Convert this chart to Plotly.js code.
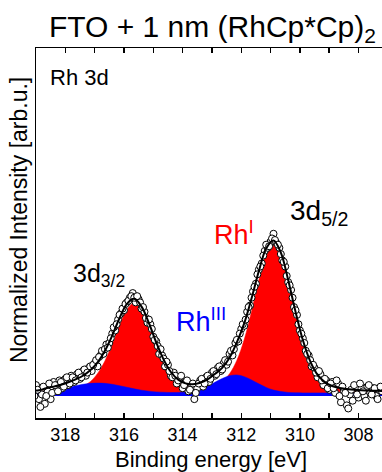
<!DOCTYPE html>
<html>
<head>
<meta charset="utf-8">
<script src="https://cdn.plot.ly/plotly-3.0.1.min.js"></script>
<style>html,body{margin:0;padding:0;background:#fff;}#chart{width:382px;height:472px;}</style>
</head>
<body>
<div id="chart"></div>
<script>
// Binding energies of the fit curves [eV]
const xFit = [319.15, 318.90, 318.65, 318.40, 318.15, 317.90, 317.65, 317.40, 317.15, 316.90,
  316.65, 316.40, 316.15, 315.90, 315.65, 315.40, 315.15, 314.90, 314.65, 314.40,
  314.15, 313.90, 313.65, 313.40, 313.15, 312.90, 312.65, 312.40, 312.15, 311.90,
  311.65, 311.40, 311.15, 310.90, 310.65, 310.40, 310.15, 309.90, 309.65, 309.40,
  309.15, 308.90, 308.65, 308.40, 308.15, 307.90, 307.65, 307.40, 307.15];
// Rh(I) component (red)
const rhI = [0.029, 0.031, 0.032, 0.034, 0.037, 0.041, 0.048, 0.063, 0.092, 0.145,
  0.225, 0.333, 0.454, 0.555, 0.597, 0.556, 0.457, 0.338, 0.231, 0.152,
  0.102, 0.076, 0.064, 0.061, 0.063, 0.073, 0.096, 0.143, 0.229, 0.362,
  0.542, 0.743, 0.911, 0.979, 0.910, 0.741, 0.540, 0.359, 0.224, 0.137,
  0.089, 0.064, 0.051, 0.045, 0.040, 0.037, 0.035, 0.033, 0.032];
// Rh(III) component (blue)
const rhIII = [0.024, 0.026, 0.031, 0.037, 0.046, 0.056, 0.066, 0.075, 0.081, 0.083,
  0.081, 0.075, 0.066, 0.056, 0.046, 0.037, 0.031, 0.026, 0.024, 0.022,
  0.023, 0.025, 0.032, 0.044, 0.063, 0.088, 0.112, 0.130, 0.135, 0.124,
  0.103, 0.078, 0.055, 0.038, 0.029, 0.023, 0.021, 0.020, 0.020, 0.020,
  0.020, 0.020, 0.020, 0.020, 0.020, 0.020, 0.020, 0.020, 0.020];
// Fit envelope (black line)
const envelope = [0.033, 0.037, 0.050, 0.060, 0.072, 0.088, 0.107, 0.130, 0.165, 0.215,
  0.290, 0.388, 0.500, 0.591, 0.623, 0.573, 0.468, 0.344, 0.235, 0.154,
  0.105, 0.081, 0.076, 0.085, 0.106, 0.141, 0.180, 0.245, 0.344, 0.466,
  0.625, 0.801, 0.946, 0.997, 0.919, 0.744, 0.541, 0.359, 0.224, 0.137,
  0.089, 0.064, 0.051, 0.045, 0.040, 0.037, 0.035, 0.033, 0.032];
// Measured data points (sweep A)
const xDataA = [319.0, 318.9, 318.8, 318.7, 318.6, 318.5, 318.4, 318.3, 318.2, 318.1,
  318.0, 317.9, 317.8, 317.7, 317.6, 317.5, 317.4, 317.3, 317.2, 317.1,
  317.0, 316.9, 316.8, 316.7, 316.6, 316.5, 316.4, 316.3, 316.2, 316.1,
  316.0, 315.9, 315.8, 315.7, 315.6, 315.5, 315.4, 315.3, 315.2, 315.1,
  315.0, 314.9, 314.8, 314.7, 314.6, 314.5, 314.4, 314.3, 314.2, 314.1,
  314.0, 313.9, 313.8, 313.7, 313.6, 313.5, 313.4, 313.3, 313.2, 313.1,
  313.0, 312.9, 312.8, 312.7, 312.6, 312.5, 312.4, 312.3, 312.2, 312.1,
  312.0, 311.9, 311.8, 311.7, 311.6, 311.5, 311.4, 311.3, 311.2, 311.1,
  311.0, 310.9, 310.8, 310.7, 310.6, 310.5, 310.4, 310.3, 310.2, 310.1,
  310.0, 309.9, 309.8, 309.7, 309.6, 309.5, 309.4, 309.3, 309.2, 309.1,
  309.0, 308.9, 308.8, 308.7, 308.6, 308.5, 308.4, 308.3, 308.2, 308.1,
  308.0, 307.9, 307.8, 307.7, 307.6, 307.5, 307.4, 307.3, 307.2];
const yDataA = [0.07, -0.02, 0.01, -0.05, 0.03, -0.02, 0.09, 0.04, 0.10, 0.05,
  0.11, 0.07, 0.13, 0.09, 0.14, 0.11, 0.16, 0.13, 0.18, 0.16,
  0.21, 0.19, 0.26, 0.27, 0.33, 0.34, 0.40, 0.42, 0.49, 0.53,
  0.55, 0.60, 0.63, 0.66, 0.60, 0.62, 0.56, 0.54, 0.47, 0.46,
  0.38, 0.35, 0.27, 0.26, 0.19, 0.20, 0.13, 0.15, 0.08, 0.11,
  0.05, 0.09, 0.03, 0.06, -0.02, 0.05, 0.10, 0.06, 0.12, 0.09,
  0.15, 0.13, 0.18, 0.16, 0.21, 0.20, 0.27, 0.26, 0.34, 0.35,
  0.43, 0.45, 0.54, 0.58, 0.67, 0.72, 0.81, 0.85, 0.93, 0.95,
  0.99, 1.04, 0.98, 0.95, 0.87, 0.83, 0.73, 0.68, 0.57, 0.52,
  0.42, 0.37, 0.29, 0.26, 0.19, 0.18, 0.12, 0.14, 0.07, 0.10,
  0.04, 0.09, 0.02, 0.08, -0.04, 0.03, -0.06, 0.01, -0.03, 0.06,
  -0.01, 0.05, 0.00, 0.06, 0.02, 0.05, 0.00, 0.04, 0.03];
// Measured data points (sweep B)
const xDataB = [319.05, 318.95, 318.85, 318.75, 318.65, 318.55, 318.45, 318.35, 318.25, 318.15,
  318.05, 317.95, 317.85, 317.75, 317.65, 317.55, 317.45, 317.35, 317.25, 317.15,
  317.05, 316.95, 316.85, 316.75, 316.65, 316.55, 316.45, 316.35, 316.25, 316.15,
  316.05, 315.95, 315.85, 315.75, 315.65, 315.55, 315.45, 315.35, 315.25, 315.15,
  315.05, 314.95, 314.85, 314.75, 314.65, 314.55, 314.45, 314.35, 314.25, 314.15,
  314.05, 313.95, 313.85, 313.75, 313.65, 313.55, 313.45, 313.35, 313.25, 313.15,
  313.05, 312.95, 312.85, 312.75, 312.65, 312.55, 312.45, 312.35, 312.25, 312.15,
  312.05, 311.95, 311.85, 311.75, 311.65, 311.55, 311.45, 311.35, 311.25, 311.15,
  311.05, 310.95, 310.85, 310.75, 310.65, 310.55, 310.45, 310.35, 310.25, 310.15,
  310.05, 309.95, 309.85, 309.75, 309.65, 309.55, 309.45, 309.35, 309.25, 309.15,
  309.05, 308.95, 308.85, 308.75, 308.65, 308.55, 308.45, 308.35, 308.25, 308.15,
  308.05, 307.95, 307.85, 307.75, 307.65, 307.55, 307.45, 307.35, 307.25];
const yDataB = [0.00, 0.04, -0.07, 0.06, 0.00, 0.08, 0.02, 0.07, 0.03, 0.09,
  0.06, 0.12, 0.08, 0.12, 0.10, 0.15, 0.12, 0.17, 0.15, 0.19,
  0.20, 0.23, 0.25, 0.29, 0.30, 0.31, 0.37, 0.44, 0.46, 0.52,
  0.56, 0.59, 0.61, 0.64, 0.63, 0.64, 0.60, 0.57, 0.50, 0.49,
  0.43, 0.36, 0.32, 0.30, 0.24, 0.22, 0.16, 0.12, 0.13, 0.10,
  0.13, 0.07, 0.10, 0.04, 0.08, 0.02, 0.08, 0.11, 0.08, 0.13,
  0.11, 0.16, 0.14, 0.19, 0.17, 0.23, 0.22, 0.29, 0.30, 0.36,
  0.40, 0.46, 0.49, 0.57, 0.63, 0.70, 0.78, 0.83, 0.90, 0.97,
  0.96, 1.01, 1.00, 0.97, 0.91, 0.86, 0.77, 0.71, 0.63, 0.55,
  0.46, 0.40, 0.34, 0.27, 0.23, 0.20, 0.15, 0.16, 0.10, 0.11,
  0.05, 0.08, 0.05, 0.10, 0.00, 0.06, 0.02, -0.08, 0.04, 0.07,
  0.01, 0.08, 0.03, -0.03, 0.07, 0.01, 0.05, -0.02, 0.06];

const FONT = '"Liberation Sans", Arial, sans-serif';
const dataMarker = {symbol: 'circle', size: 7, color: '#ffffff', line: {color: '#000000', width: 1}};

const traces = [
  {x: xFit, y: rhI, mode: 'lines', line: {color: '#ff0000', width: 0.5, shape: 'spline'},
   fill: 'tozeroy', fillcolor: '#ff0000', hoverinfo: 'skip', showlegend: false},
  {x: xFit, y: rhIII, mode: 'lines', line: {color: '#0000ff', width: 0.5, shape: 'spline'},
   fill: 'tozeroy', fillcolor: '#0000ff', hoverinfo: 'skip', showlegend: false},
  {x: xDataA, y: yDataA, mode: 'markers', marker: dataMarker, showlegend: false},
  {x: xDataB, y: yDataB, mode: 'markers', marker: dataMarker, showlegend: false},
  {x: xFit, y: envelope, mode: 'lines', line: {color: '#000000', width: 2, shape: 'spline'},
   showlegend: false}
];

const layout = {
  width: 382, height: 472,
  margin: {l: 36, r: 0, t: 48, b: 54, pad: 0},
  paper_bgcolor: '#ffffff', plot_bgcolor: '#ffffff',
  font: {family: FONT, color: '#000000'},
  title: {text: 'FTO + 1 nm (RhCp*Cp)<sub>2</sub>', font: {family: FONT, size: 30, color: '#000'},
          xref: 'paper', x: 0.51, xanchor: 'center', yref: 'container', y: 0.944, yanchor: 'middle'},
  xaxis: {range: [319, 307.2], tick0: 308, dtick: 2, ticks: 'inside', ticklen: 5, tickwidth: 1.5,
          tickcolor: '#000', showline: true, linewidth: 1.5, linecolor: '#000', mirror: 'ticks',
          showgrid: false, zeroline: false, tickfont: {family: FONT, size: 18, color: '#000'},
          minor: {dtick: 1, ticks: 'inside', ticklen: 5, tickwidth: 1.5, tickcolor: '#000', showgrid: false}},
  yaxis: {range: [-0.141, 2.231], showticklabels: false, ticks: '', showline: true, linewidth: 1.5,
          linecolor: '#000', mirror: false, showgrid: false, zeroline: false},
  annotations: [
    {text: 'Binding energy [eV]', xref: 'paper', yref: 'paper', x: 0.507, y: -0.111,
     xanchor: 'center', yanchor: 'middle', showarrow: false, font: {family: FONT, size: 22, color: '#000'}},
    {text: 'Normalized Intensity [arb.u.]', xref: 'paper', yref: 'paper', x: -0.049, y: 0.535,
     xanchor: 'center', yanchor: 'middle', textangle: -90, showarrow: false,
     font: {family: FONT, size: 23, color: '#000'}},
    {text: 'Rh 3d', xref: 'paper', yref: 'paper', x: 0.035, y: 0.919, xanchor: 'left', yanchor: 'middle',
     showarrow: false, font: {family: FONT, size: 22, color: '#000'}},
    {text: '3d<sub>5/2</sub>', xref: 'paper', yref: 'paper', x: 0.727, y: 0.556, xanchor: 'left', yanchor: 'middle',
     showarrow: false, font: {family: FONT, size: 28, color: '#000'}},
    {text: '3d<sub>3/2</sub>', xref: 'paper', yref: 'paper', x: 0.102, y: 0.386, xanchor: 'left', yanchor: 'middle',
     showarrow: false, font: {family: FONT, size: 25, color: '#000'}},
    {text: 'Rh<sup>I</sup>', xref: 'paper', yref: 'paper', x: 0.510, y: 0.500, xanchor: 'left', yanchor: 'middle',
     showarrow: false, font: {family: FONT, size: 27, color: '#ff0000'}},
    {text: 'Rh<sup>III</sup>', xref: 'paper', yref: 'paper', x: 0.398, y: 0.266, xanchor: 'left', yanchor: 'middle',
     showarrow: false, font: {family: FONT, size: 27, color: '#0000ff'}}
  ]
};

Plotly.newPlot('chart', traces, layout, {displayModeBar: false, staticPlot: true});
</script>
</body>
</html>
